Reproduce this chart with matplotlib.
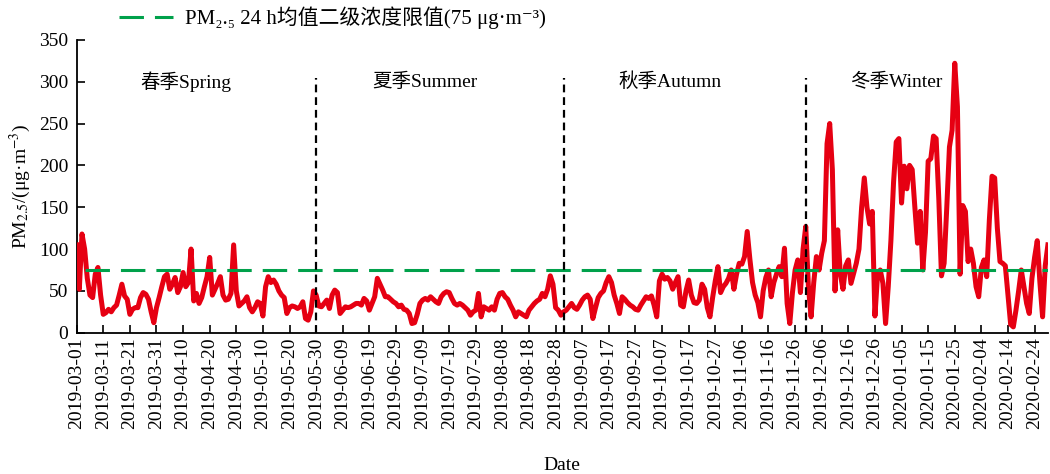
import numpy as np
import pandas as pd
import matplotlib
matplotlib.use('Agg')
import matplotlib.pyplot as plt
import matplotlib.dates as mdates

plt.rcParams['font.family'] = ['Liberation Serif', 'DejaVu Serif', 'Noto Sans CJK SC']
plt.rcParams['mathtext.fontset'] = 'stix'

# Daily PM2.5 (ug/m3), 2019-03-01 .. 2020-02-29
mar = [105, 52, 118, 100, 65, 45, 42, 70, 78, 45, 22, 24, 28, 25, 30, 33, 45, 58, 44, 40,
       22, 28, 30, 30, 42, 48, 46, 40, 25, 12, 30]
apr = [42, 55, 67, 70, 52, 58, 66, 48, 55, 72, 55, 60, 100, 38, 47, 35, 42, 55, 67, 90,
       45, 52, 59, 67, 45, 39, 40, 47, 105, 50]
may = [32, 35, 38, 43, 30, 25, 30, 37, 35, 20, 55, 67, 60, 63, 58, 50, 45, 42, 23, 30,
       32, 31, 29, 31, 37, 17, 15, 25, 50, 45, 32]
jun = [31, 35, 39, 29, 45, 51, 48, 23, 27, 31, 30, 31, 33, 35, 35, 33, 41, 38, 27, 35,
       43, 65, 58, 51, 43, 43, 40, 37, 35, 31]
jul = [33, 28, 27, 23, 11, 12, 22, 35, 39, 41, 39, 43, 40, 37, 35, 43, 47, 49, 48, 41,
       35, 33, 35, 33, 30, 27, 21, 25, 27, 47, 19]
aug = [31, 29, 27, 31, 27, 40, 47, 48, 43, 40, 33, 27, 19, 25, 23, 21, 19, 27, 31, 35,
       38, 40, 47, 43, 52, 68, 58, 30, 27, 21, 25]
sep = [27, 31, 35, 30, 28, 33, 39, 43, 45, 40, 17, 30, 42, 47, 50, 60, 67, 60, 45, 35,
       23, 43, 40, 36, 33, 31, 28, 27, 33, 38]
oct_ = [43, 41, 44, 33, 19, 62, 70, 64, 66, 62, 52, 60, 67, 33, 31, 50, 63, 45, 36, 35,
        39, 58, 52, 30, 19, 42, 62, 79, 48, 55, 59]
nov = [65, 75, 52, 70, 83, 82, 91, 121, 88, 60, 45, 36, 19, 50, 66, 75, 43, 60, 70, 79,
       67, 101, 35, 11, 48, 75, 87, 48, 100, 127]
dec = [55, 19, 60, 91, 75, 95, 110, 226, 250, 195, 50, 123, 70, 52, 80, 87, 59, 71, 83, 100,
       150, 185, 150, 130, 145, 20, 70, 75, 59, 11, 55]
jan = [110, 180, 228, 232, 155, 199, 172, 200, 195, 150, 107, 145, 75, 120, 205, 208, 235, 232, 160, 68,
       83, 150, 222, 242, 322, 270, 70, 152, 145, 85, 100]
feb = [83, 55, 43, 78, 87, 67, 135, 187, 185, 125, 85, 83, 80, 45, 10, 7, 27, 50, 75, 55,
       35, 23, 65, 90, 110, 60, 19, 80, 105]

limit_value = 75
season_names = ['春季Spring', '夏季Summer', '秋季Autumn', '冬季Winter']
season_ends = ['2019-05-30', '2019-08-31', '2019-11-30']

pm25 = np.array(mar + apr + may + jun + jul + aug + sep + oct_ + nov + dec + jan + feb)
dates = pd.date_range('2019-03-01', periods=len(pm25), freq='D')

fig = plt.figure(figsize=(10.5, 4.74), dpi=100)
ax = fig.add_axes([0.073, 0.298, 0.925, 0.618])

ax.plot(dates, pm25, color='#e60012', lw=3.6, solid_joinstyle='round', zorder=3)

# reference line (24 h grade II limit)
limit, = ax.plot(dates[3:], np.full(len(dates) - 3, limit_value), color='#00a14b', lw=2.2,
                 dashes=(8, 3.6), zorder=4,
                 label='PM\u2082.\u2085 24 h均值二级浓度限值(75 μg·m\u207b\u00b3)')

# season boundaries
for d in season_ends:
    ax.plot([pd.Timestamp(d)] * 2, [0, 304], color='black', lw=1.6, dashes=(3.5, 2.2), zorder=5)

# season titles
label_pos = ['2019-04-11', '2019-07-10', '2019-10-10', '2020-01-03']
for name, d in zip(season_names, label_pos):
    ax.text(pd.Timestamp(d), 300, name, ha='center', va='center', fontsize=14)

ax.set_xlim(dates[0], dates[-1])
ax.set_ylim(0, 350)
ax.set_yticks(range(0, 351, 50))
ax.set_xticks(dates[::10])
ax.xaxis.set_major_formatter(mdates.DateFormatter('%Y-%m-%d'))
ax.tick_params(axis='x', rotation=90, labelsize=14, direction='in', length=6, width=1.2)
ax.tick_params(axis='y', labelsize=14, direction='in', length=6, width=1.2, pad=6)

for s in ['top', 'right']:
    ax.spines[s].set_visible(False)
for s in ['left', 'bottom']:
    ax.spines[s].set_linewidth(1.3)

ax.set_xlabel('Date', fontsize=14, labelpad=20)
ax.set_ylabel(r'PM$_{2.5}$/(μg·m$^{-3}$)', fontsize=14, labelpad=4)

fig.legend(handles=[limit], loc='center left', bbox_to_anchor=(0.105, 0.962), frameon=False,
           fontsize=15, handlelength=2.6, handletextpad=0.6, borderaxespad=0)

fig.savefig('out.png', dpi=100)
plt.close(fig)
